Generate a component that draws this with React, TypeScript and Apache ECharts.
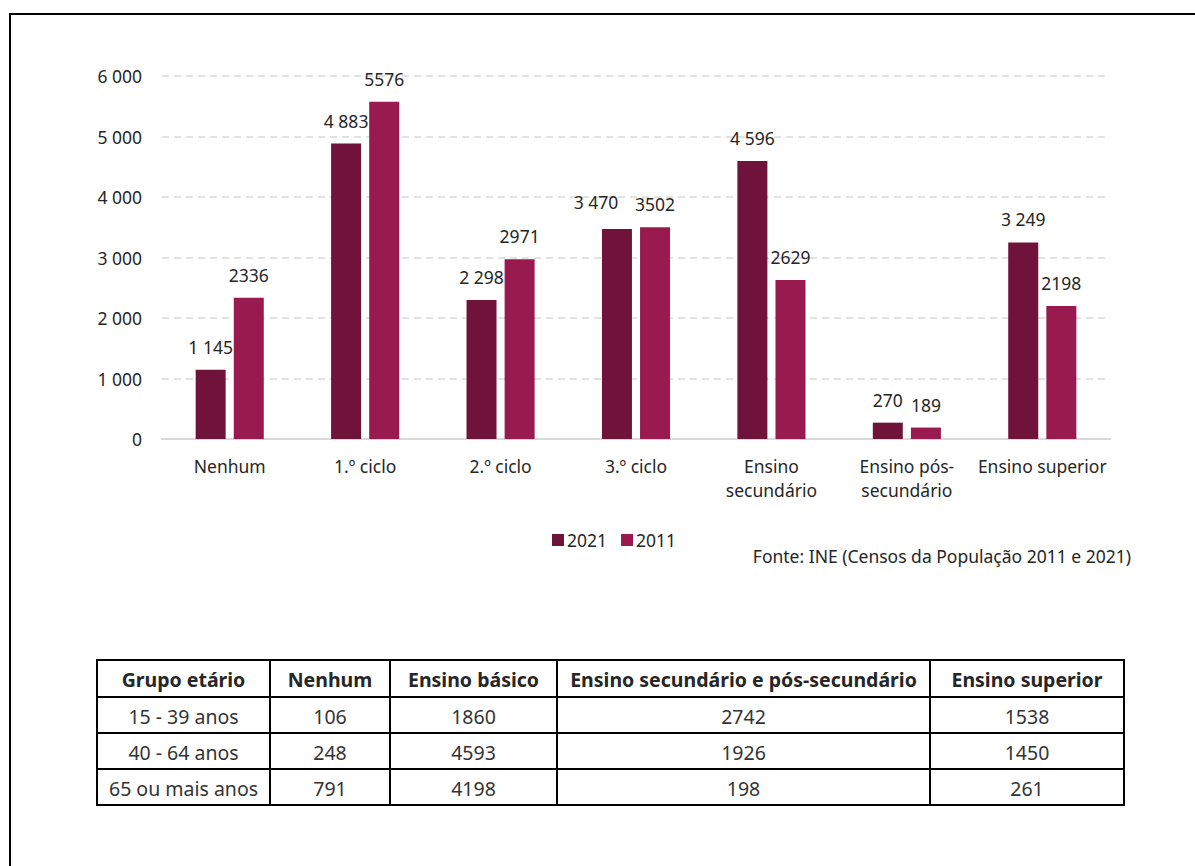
import React, { useEffect, useRef } from "react";
import * as echarts from "echarts";

const categories = ["Nenhum", "1.º ciclo", "2.º ciclo", "3.º ciclo", "Ensino\nsecundário", "Ensino pós-\nsecundário", "Ensino superior"];
const values2021 = [1145, 4883, 2298, 3470, 4596, 270, 3249];
const values2011 = [2336, 5576, 2971, 3502, 2629, 189, 2198];
const seriesNames = ["2021", "2011"];
const sourceText = "Fonte: INE (Censos da População 2011 e 2021)";

const tableHeaders = ["Grupo etário", "Nenhum", "Ensino básico", "Ensino secundário e pós-secundário", "Ensino superior"];
const ageGroups = ["15 - 39 anos", "40 - 64 anos", "65 ou mais anos"];
const tableNenhum = [106, 248, 791];
const tableBasico = [1860, 4593, 4198];
const tableSecundario = [2742, 1926, 198];
const tableSuperior = [1538, 1450, 261];

const FONT = "'Noto Sans', 'Open Sans', sans-serif";
const COLORS = ["#70133A", "#981A4F"];

const spaced = (v: number) => String(v).replace(/\B(?=(\d{3})+(?!\d))/g, " ");

export default function App() {
  const ref = useRef<HTMLDivElement>(null);
  useEffect(() => {
    if (!ref.current) return;
    const chart = echarts.init(ref.current, undefined, { renderer: "svg" });

    // table layout
    const colX = [97, 270, 390, 557, 930, 1124];
    const rowY = [660, 697, 733, 769, 805];
    const tableGraphics: any[] = [];
    const rows: (string | number)[][] = [tableHeaders];
    ageGroups.forEach((g, i) => {
      rows.push([g, tableNenhum[i], tableBasico[i], tableSecundario[i], tableSuperior[i]]);
    });
    rows.forEach((row, r) => {
      row.forEach((cell, c) => {
        tableGraphics.push({
          type: "text",
          x: (colX[c] + colX[c + 1]) / 2,
          y: (rowY[r] + rowY[r + 1]) / 2 + 1,
          style: {
            text: String(cell),
            align: "center",
            verticalAlign: "middle",
            fontFamily: FONT,
            fontSize: r === 0 ? 19.5 : 19.5,
            fontWeight: r === 0 ? "bold" : "normal",
            fill: r === 0 ? "#262626" : "#333333",
          },
        });
      });
    });
    tableGraphics.push({
      type: "rect",
      shape: { x: colX[0], y: rowY[0], width: colX[colX.length - 1] - colX[0], height: rowY[rowY.length - 1] - rowY[0] },
      style: { fill: "none", stroke: "#000", lineWidth: 2 },
    });
    for (let i = 1; i < colX.length - 1; i++) {
      tableGraphics.push({
        type: "line",
        shape: { x1: colX[i], y1: rowY[0], x2: colX[i], y2: rowY[rowY.length - 1] },
        style: { stroke: "#000", lineWidth: 2 },
      });
    }
    for (let j = 1; j < rowY.length - 1; j++) {
      tableGraphics.push({
        type: "line",
        shape: { x1: colX[0], y1: rowY[j], x2: colX[colX.length - 1], y2: rowY[j] },
        style: { stroke: "#000", lineWidth: 2 },
      });
    }

    const labelCommon = {
      show: true,
      position: "top" as const,
      distance: 14,
      fontFamily: FONT,
      fontSize: 17.5,
      color: "#262626",
    };

    chart.setOption({
      animation: false,
      textStyle: { fontFamily: FONT },
      grid: { left: 162, right: 85, top: 76, bottom: 427, containLabel: false },
      legend: {
        data: seriesNames,
        left: 547,
        top: 526,
        icon: "rect",
        itemWidth: 12,
        itemHeight: 12,
        itemGap: 14,
        textStyle: { fontFamily: FONT, fontSize: 17.5, color: "#262626", padding: [0, 0, 0, -2] },
      },
      xAxis: {
        type: "category",
        data: categories,
        axisLine: { lineStyle: { color: "#d9d9d9", width: 2 } },
        axisTick: { show: false },
        axisLabel: { margin: 15, fontFamily: FONT, fontSize: 17.5, color: "#262626", lineHeight: 24, interval: 0 },
      },
      yAxis: {
        type: "value",
        min: 0,
        max: 6000,
        interval: 1000,
        axisLine: { show: false },
        axisTick: { show: false },
        axisLabel: { margin: 20, fontFamily: FONT, fontSize: 17.5, color: "#262626", formatter: (v: number) => spaced(v) },
        splitLine: { lineStyle: { color: "#d9d9d9", type: [7, 5], width: 1.5 } },
      },
      series: [
        {
          name: seriesNames[0],
          type: "bar",
          data: values2021.map((v, i) => (i === 3 ? { value: v, label: { offset: [-21, -4] } } : v)),
          barWidth: 30,
          barGap: "27%",
          itemStyle: { color: COLORS[0] },
          label: { ...labelCommon, formatter: (p: any) => spaced(p.value) },
        },
        {
          name: seriesNames[1],
          type: "bar",
          data: values2011,
          barWidth: 30,
          itemStyle: { color: COLORS[1] },
          label: { ...labelCommon, formatter: (p: any) => String(p.value) },
        },
      ],
      graphic: [
        {
          type: "rect",
          shape: { x: 10, y: 14, width: 1400, height: 1000 },
          style: { fill: "none", stroke: "#000", lineWidth: 2 },
          silent: true,
        },
        {
          type: "text",
          x: 1131,
          y: 556,
          style: {
            text: sourceText,
            align: "right",
            verticalAlign: "middle",
            fontFamily: FONT,
            fontSize: 17.5,
            fill: "#262626",
          },
        },
        ...tableGraphics,
      ],
    });
    return () => chart.dispose();
  }, []);
  return (
    <div
      ref={ref}
      style={{ position: "absolute", left: 0, top: 0, width: 1195, height: 866, background: "#fff" }}
    />
  );
}
